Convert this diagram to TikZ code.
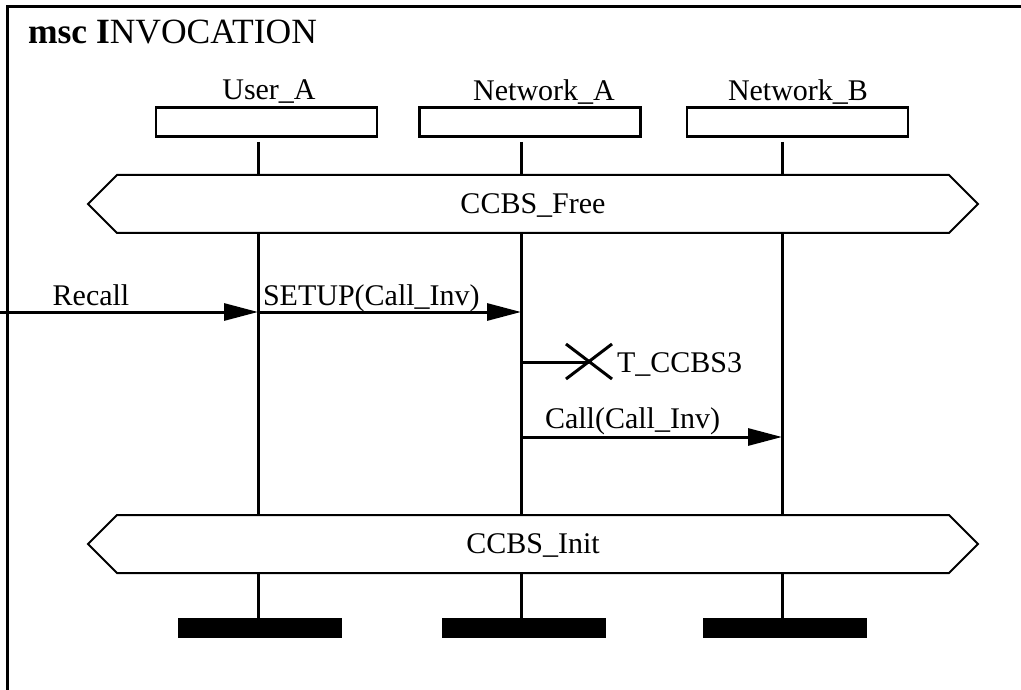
\documentclass[tikz,border=0pt]{standalone}
\usepackage{fontspec}
\setmainfont{Liberation Serif}
\usetikzlibrary{arrows.meta}
\begin{document}
\begin{tikzpicture}[x=1pt,y=-1pt,
  every node/.style={inner sep=0pt,outer sep=0pt,font=\fontsize{30}{36}\selectfont},
  frame/.style={line width=3pt},
  inst/.style={draw,line width=2.5pt,minimum width=221pt,minimum height=29pt},
  life/.style={line width=3pt},
  cond/.style={draw,line width=2pt,line join=miter},
  msg/.style={line width=3pt,-{Triangle[length=34pt,width=17pt]}},
  endbar/.style={fill=black,minimum width=164pt,minimum height=20pt},
  lbl/.style={anchor=base}
]
\useasboundingbox (0,0) rectangle (1021,690);
% frame
\draw[frame] (1025,7) -- (7,7) -- (7,694);
\node[anchor=base west,font=\fontsize{35.5}{42}\selectfont] (title) at (28,44) {\textbf{msc I}NVOCATION};

% instance heads
\node[inst] (ua) at (266.5,122) {};
\node[inst] (na) at (530,122) {};
\node[inst] (nb) at (797.5,122) {};
\node[lbl] (ualbl) at (269,100) {User\_A};
\node[lbl] (nalbl) at (544,101) {Network\_A};
\node[lbl] (nblbl) at (798,101) {Network\_B};

% lifeline coordinates
\foreach \n/\x in {A/258,B/521,C/782}{
  \coordinate (\n0) at (\x,142);
  \coordinate (\n1) at (\x,175);
  \coordinate (\n2) at (\x,233);
  \coordinate (\n3) at (\x,515);
  \coordinate (\n4) at (\x,573);
  \coordinate (\n5) at (\x,618);
  \draw[life] (\n0) -- (\n1);
  \draw[life] (\n2) -- (\n3);
  \draw[life] (\n4) -- (\n5);
}

% conditions
\draw[cond] (88,204) -- (117,175) -- (949,175) -- (978,204) -- (949,233) -- (117,233) -- cycle;
\node (free) at (533,206) {CCBS\_Free};
\draw[cond] (88,544) -- (117,515) -- (949,515) -- (978,544) -- (949,573) -- (117,573) -- cycle;
\node (init) at (533,545) {CCBS\_Init};

% end bars
\node[endbar] (ea) at (260,628) {};
\node[endbar] (eb) at (524,628) {};
\node[endbar] (ec) at (785,628) {};

% messages
\coordinate (env) at (0,312);
\coordinate (ma) at (258,312);
\coordinate (mb) at (521,312);
\draw[msg] (env) -- (ma);
\node[lbl] (recall) at (91,305) {Recall};
\draw[msg] (ma) -- (mb);
\node[anchor=base west] (setup) at (263,305) {SETUP(Call\_Inv)};

% timer
\coordinate (ts) at (521,362);
\coordinate (tx) at (589,362);
\draw[life] (ts) -- (tx);
\draw[line width=3pt] (566,344) -- (612,379) (566,379) -- (612,344);
\node[anchor=base west] (tccbs) at (617,372) {T\_CCBS3};

% call
\coordinate (cs) at (521,437);
\coordinate (ce) at (782,437);
\draw[msg] (cs) -- (ce);
\node[anchor=base west] (call) at (545,428) {Call(Call\_Inv)};
\end{tikzpicture}
\end{document}
